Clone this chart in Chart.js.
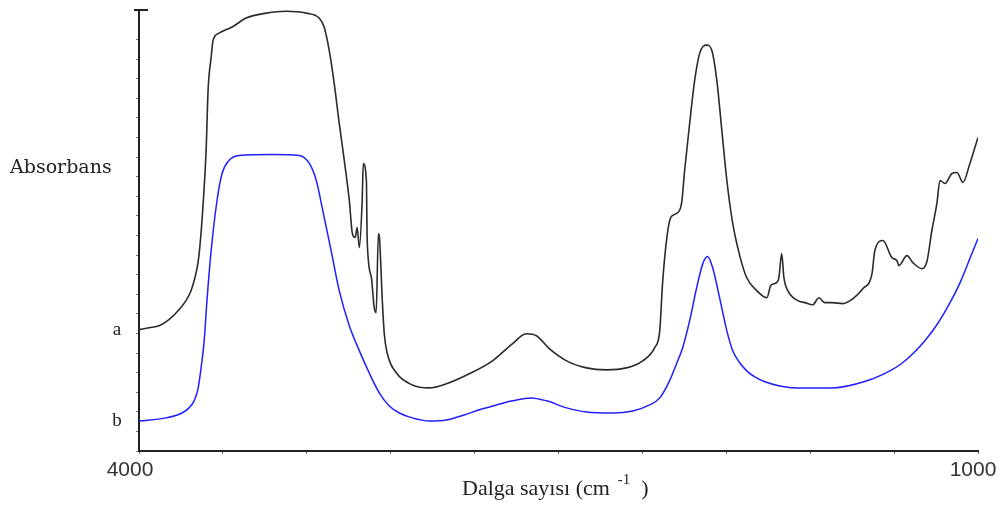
<!DOCTYPE html>
<html lang="tr">
<head>
  <meta charset="UTF-8">
  <title>Absorbans</title>
  <style>
    html, body {
      margin: 0;
      padding: 0;
      background: #fff;
    }
    #wrap {
      width: 1008px;
      height: 509px;
    }
  </style>
  <script src="https://cdn.jsdelivr.net/npm/chart.js"></script>
</head>
<body>
  <div id="wrap"><canvas id="spectrum" width="1008" height="509"></canvas></div>

  <script>
    // spectrum a (upper trace)
    const wavenumbersA = [4000, 3964, 3928, 3893, 3857, 3832, 3814, 3800, 3789, 3782, 3774, 3760, 3753, 3742, 3735, 3714, 3667, 3617, 3545, 3474,
      3402, 3356, 3338, 3320, 3302, 3284, 3266, 3248, 3237, 3227, 3220, 3212, 3202, 3198, 3187, 3184, 3169, 3159, 3152, 3144,
      3141, 3130, 3123, 3112, 3080, 3023, 2962, 2901, 2819, 2736, 2665, 2615, 2579, 2532, 2471, 2400, 2328, 2257, 2199, 2156,
      2138, 2128, 2113, 2099, 2078, 2060, 2049, 2031, 2013, 1995, 1970, 1952, 1934, 1916, 1898, 1877, 1852, 1827, 1791, 1755,
      1741, 1720, 1712, 1702, 1694, 1680, 1644, 1619, 1591, 1569, 1548, 1523, 1483, 1447, 1412, 1379, 1369, 1340, 1308, 1290,
      1283, 1254, 1233, 1200, 1182, 1165, 1147, 1136, 1118, 1093, 1075, 1054, 1029, 1000];
    const absorbanceA = [0.619, 0.629, 0.639, 0.670, 0.721, 0.767, 0.818, 0.884, 0.961, 1.048, 1.191, 1.534, 1.840, 2.009, 2.096, 2.132, 2.163, 2.209, 2.234, 2.244,
      2.234, 2.209, 2.163, 2.045, 1.876, 1.672, 1.483, 1.278, 1.109, 1.089, 1.140, 1.038, 1.278, 1.467, 1.380, 1.074, 0.884, 0.731, 0.706, 1.109,
      1.099, 0.767, 0.598, 0.496, 0.399, 0.337, 0.322, 0.343, 0.394, 0.460, 0.547, 0.598, 0.588, 0.521, 0.460, 0.424, 0.414, 0.424, 0.460, 0.527,
      0.613, 0.854, 1.084, 1.191, 1.212, 1.263, 1.431, 1.672, 1.892, 2.030, 2.071, 2.045, 1.892, 1.636, 1.380, 1.161, 0.997, 0.884, 0.818, 0.782,
      0.844, 0.859, 0.884, 1.007, 0.884, 0.818, 0.767, 0.757, 0.746, 0.782, 0.757, 0.757, 0.752, 0.777, 0.828, 0.905, 1.022, 1.074, 0.987, 0.971,
      0.946, 0.997, 0.961, 0.930, 0.971, 1.125, 1.263, 1.380, 1.365, 1.416, 1.421, 1.370, 1.467, 1.600];

    // spectrum b (lower trace)
    const wavenumbersB = [4000, 3903, 3846, 3821, 3803, 3789, 3778, 3767, 3757, 3742, 3721, 3703, 3678, 3642, 3524, 3427, 3391, 3366, 3345, 3313,
      3284, 3248, 3212, 3177, 3141, 3105, 3069, 3023, 2962, 2901, 2837, 2783, 2722, 2665, 2597, 2543, 2471, 2400, 2307, 2235,
      2174, 2138, 2103, 2078, 2056, 2031, 2006, 1984, 1967, 1949, 1924, 1898, 1877, 1852, 1827, 1798, 1762, 1709, 1648, 1519,
      1397, 1315, 1279, 1233, 1190, 1147, 1100, 1064, 1029, 1000];
    const absorbanceB = [0.153, 0.169, 0.194, 0.220, 0.256, 0.317, 0.424, 0.562, 0.767, 1.022, 1.278, 1.416, 1.483, 1.508, 1.513, 1.508, 1.467, 1.380, 1.242, 1.022,
      0.818, 0.639, 0.511, 0.399, 0.297, 0.230, 0.194, 0.169, 0.153, 0.158, 0.184, 0.210, 0.235, 0.256, 0.271, 0.256, 0.220, 0.199, 0.194, 0.204,
      0.235, 0.271, 0.358, 0.445, 0.527, 0.665, 0.833, 0.956, 0.992, 0.936, 0.782, 0.613, 0.511, 0.450, 0.409, 0.378, 0.353, 0.332, 0.322, 0.322,
      0.358, 0.409, 0.440, 0.496, 0.562, 0.644, 0.757, 0.859, 0.982, 1.084];

    const seriesLabels = ['a', 'b'];
    const edgeTickLabels = ['4000', '1000'];
    const edgeTickValues = [4000, 1000];
    const yTitle = 'Absorbans';
    const xTitle = 'Dalga sayısı (cm';
    const xTitleSup = '-1';

    function toPoints(xs, ys) {
      return xs.map((x, i) => ({ x: x, y: ys[i] }));
    }

    // labels, axis caption and the little cap on top of the y axis
    const annotate = {
      id: 'annotate',
      afterDraw(chart) {
        const ctx = chart.ctx;
        const xs = chart.scales.x;
        const ys = chart.scales.y;
        const area = chart.chartArea;
        ctx.save();

        ctx.strokeStyle = '#222';
        ctx.lineWidth = 2;
        ctx.beginPath();
        ctx.moveTo(area.left - 5, area.top);
        ctx.lineTo(area.left + 9, area.top);
        ctx.stroke();

        ctx.fillStyle = '#222';
        ctx.textBaseline = 'middle';
        ctx.textAlign = 'left';
        ctx.font = '19px "DejaVu Serif"';
        ctx.fillText(yTitle, 10, 168);

        ctx.font = '19px "Liberation Serif"';
        ctx.textAlign = 'center';
        ctx.fillText(seriesLabels[0], 117, ys.getPixelForValue(absorbanceA[0]));
        ctx.fillText(seriesLabels[1], 117, ys.getPixelForValue(absorbanceB[0]));

        ctx.font = '21px "Liberation Sans"';
        ctx.fillStyle = '#333';
        ctx.fillText(edgeTickLabels[0], xs.getPixelForValue(edgeTickValues[0]) - 9, area.bottom + 19);
        ctx.fillText(edgeTickLabels[1], xs.getPixelForValue(edgeTickValues[1]) - 5, area.bottom + 19);

        ctx.fillStyle = '#222';
        ctx.textBaseline = 'alphabetic';
        ctx.textAlign = 'left';
        ctx.font = '22px "Liberation Serif"';
        const x0 = 462;
        ctx.fillText(xTitle, x0, 495);
        const w = ctx.measureText(xTitle).width;
        ctx.font = '15px "Liberation Serif"';
        ctx.fillText(xTitleSup, x0 + w + 8, 484);
        const ws = ctx.measureText(xTitleSup).width;
        ctx.font = '22px "Liberation Serif"';
        ctx.fillText(')', x0 + w + ws + 19, 495);

        ctx.restore();
      }
    };

    new Chart(document.getElementById('spectrum'), {
      type: 'line',
      data: {
        datasets: [
          {
            label: seriesLabels[0],
            data: toPoints(wavenumbersA, absorbanceA),
            borderColor: '#2b2b2b',
            borderWidth: 1.6,
            pointRadius: 0,
            cubicInterpolationMode: 'monotone',
            fill: false
          },
          {
            label: seriesLabels[1],
            data: toPoints(wavenumbersB, absorbanceB),
            borderColor: '#1f1fff',
            borderWidth: 1.5,
            pointRadius: 0,
            cubicInterpolationMode: 'monotone',
            fill: false
          }
        ]
      },
      options: {
        responsive: false,
        animation: false,
        events: [],
        layout: { padding: { left: 136, right: 30, top: 10, bottom: 55 } },
        plugins: {
          legend: { display: false },
          tooltip: { enabled: false }
        },
        scales: {
          x: {
            type: 'linear',
            reverse: true,
            min: 1000,
            max: 4000,
            ticks: { display: false, stepSize: 300 },
            grid: { drawOnChartArea: false, drawTicks: true, tickLength: 3, color: '#666', lineWidth: 1 },
            border: { color: '#222', width: 2 }
          },
          y: {
            min: 0,
            max: 2.25,
            ticks: { display: false, stepSize: 0.1 },
            grid: { drawOnChartArea: false, drawTicks: true, tickLength: 3, color: '#777', lineWidth: 1 },
            border: { color: '#222', width: 2 }
          }
        }
      },
      plugins: [annotate]
    });
  </script>
</body>
</html>
